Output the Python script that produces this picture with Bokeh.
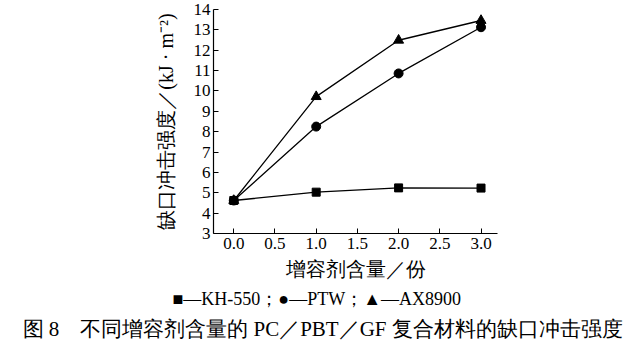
from bokeh.plotting import figure
from bokeh.models import Range1d, FixedTicker, NumeralTickFormatter, Title
from bokeh.embed import file_html
from bokeh.resources import INLINE

# data
x_vals = [0.0, 1.0, 2.0, 3.0]
kh550 = [4.62, 5.03, 5.24, 5.23]
ptw = [4.62, 8.25, 10.86, 13.13]
ax8900 = [4.62, 9.72, 12.49, 13.46]
x_ticks = [0.0, 0.5, 1.0, 1.5, 2.0, 2.5, 3.0]
y_ticks = list(range(3, 15))

y_label = "缺口冲击强度／(kJ · m⁻²)"
x_label = "增容剂含量／份"
legend_text = "■—KH-550；●—PTW；▲—AX8900"
caption = "图 8　不同增容剂含量的 PC／PBT／GF 复合材料的缺口冲击强度"

SERIF = "Liberation Serif"

p = figure(width=637, height=356, output_backend="svg", toolbar_location=None,
           x_range=Range1d(-0.246, 3.2), y_range=Range1d(3, 14),
           min_border_left=213, min_border_right=140, min_border_top=9, min_border_bottom=123)
p.outline_line_color = None
p.grid.grid_line_color = None
p.background_fill_color = "white"
p.border_fill_color = "white"

for ax in (p.xaxis[0], p.yaxis[0]):
    ax.axis_line_color = "black"
    ax.axis_line_width = 1.2
    ax.major_tick_in = 5
    ax.major_tick_out = 0
    ax.minor_tick_line_color = None
    ax.major_tick_line_color = "black"
    ax.major_label_text_font = SERIF
    ax.major_label_text_font_size = "17px"
    ax.major_label_text_color = "black"
    ax.axis_label_text_font = SERIF
    ax.axis_label_text_font_style = "normal"
    ax.axis_label_text_font_size = "20px"
    ax.axis_label_text_color = "black"

p.xaxis.ticker = FixedTicker(ticks=x_ticks)
p.xaxis.formatter = NumeralTickFormatter(format="0.0")
p.yaxis.ticker = FixedTicker(ticks=y_ticks)
p.xaxis.major_label_standoff = 4
p.yaxis.major_label_standoff = 3
p.xaxis.axis_label = x_label
p.yaxis.axis_label = y_label
p.xaxis.axis_label_standoff = 6
p.yaxis.axis_label_standoff = 14

p.line(x_vals, kh550, line_color="black", line_width=1.3)
p.line(x_vals, ptw, line_color="black", line_width=1.3)
p.line(x_vals, ax8900, line_color="black", line_width=1.3)
p.scatter(x_vals, kh550, marker="square", size=8, color="black")
p.scatter(x_vals, ptw, marker="circle", size=9, color="black")
p.scatter(x_vals, ax8900, marker="triangle", size=10, color="black")

p.add_layout(Title(text=legend_text, align="left", offset=-41, standoff=8,
                   text_font=SERIF, text_font_size="18px", text_font_style="normal",
                   text_color="black"), "below")
p.add_layout(Title(text=caption, align="left", offset=-191, standoff=5,
                   text_font=SERIF, text_font_size="21px", text_font_style="normal",
                   text_color="black"), "below")

open("out.html", "w").write(file_html(p, INLINE))
